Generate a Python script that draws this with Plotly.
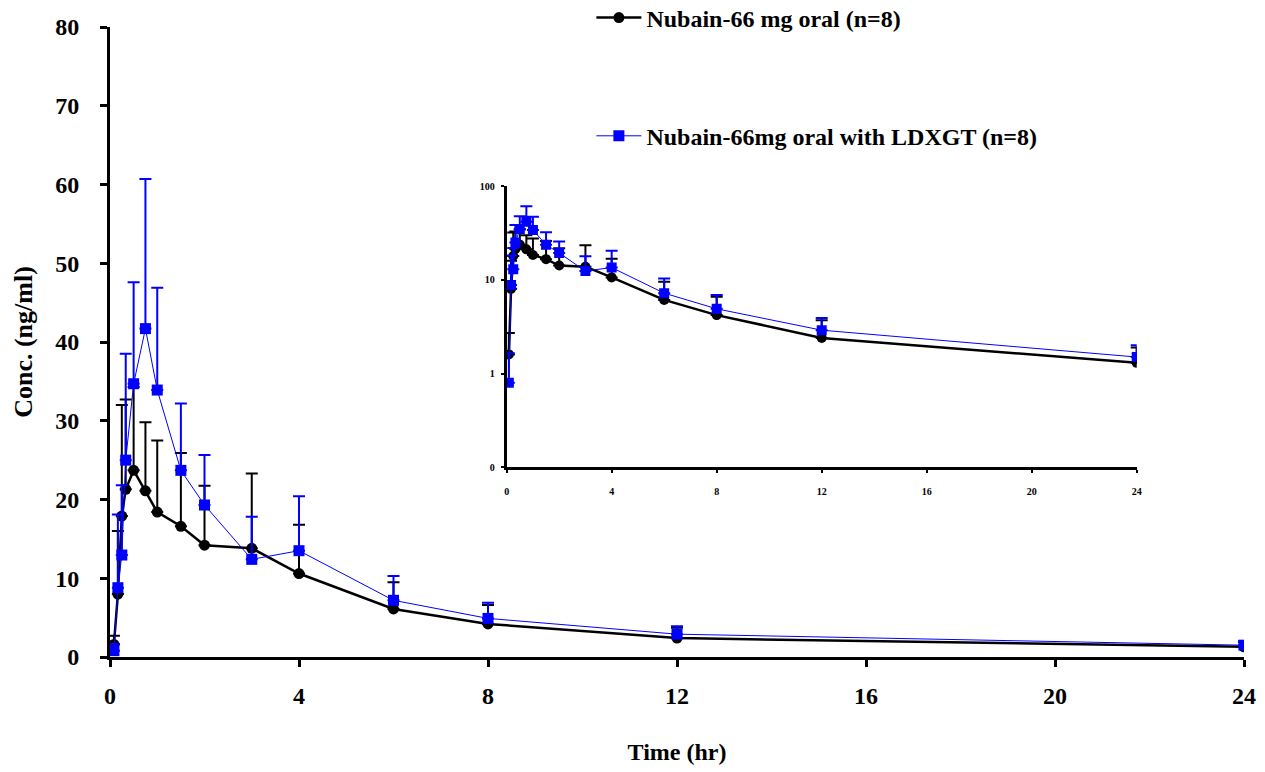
import plotly.graph_objects as go

# ---- data ----
time_hr = [0.083, 0.167, 0.25, 0.333, 0.5, 0.75, 1, 1.5, 2, 3, 4, 6, 8, 12, 24]

oral_mean = [1.6, 8.0, 17.9, 21.3, 23.7, 21.1, 18.4, 16.6, 14.2, 13.8, 10.6, 6.1, 4.2, 2.4, 1.3]
oral_sd = [1.1, 8.0, 14.1, 11.4, 10.6, 8.7, 9.1, 9.3, 7.55, 9.5, 6.2, 3.4, 2.4, 1.3, 0.6]

ldxgt_mean = [0.8, 8.8, 12.95, 25.0, 34.7, 41.7, 33.9, 23.7, 19.3, 12.4, 13.5, 7.2, 4.9, 2.9, 1.5]
ldxgt_sd = [0.85, 9.3, 8.85, 13.5, 12.9, 19.0, 13.0, 8.5, 6.35, 5.4, 6.9, 3.1, 2.0, 1.0, 0.5]

name_oral = "Nubain-66 mg oral (n=8)"
name_ldxgt = "Nubain-66mg oral with LDXGT (n=8)"

main_yticks = [0, 10, 20, 30, 40, 50, 60, 70, 80]
x_ticks = [0, 4, 8, 12, 16, 20, 24]
inset_yticks = [0.1, 1, 10, 100]
inset_yticktext = ["0", "1", "10", "100"]

FONT = "Liberation Serif"
BLACK = "#000000"
BLUE = "#0000FF"

fig = go.Figure()

def add_series(xaxis, yaxis, showlegend, msize):
    zeros = [0] * len(time_hr)
    fig.add_trace(go.Scatter(
        x=time_hr, y=oral_mean, name=name_oral, mode="lines+markers",
        xaxis=xaxis, yaxis=yaxis, showlegend=showlegend, legendgroup="a",
        line=dict(color=BLACK, width=2.5),
        marker=dict(symbol="circle", size=msize, color=BLACK),
        error_y=dict(type="data", symmetric=False, array=oral_sd, arrayminus=zeros,
                     color=BLACK, thickness=2, width=6),
    ))
    fig.add_trace(go.Scatter(
        x=time_hr, y=ldxgt_mean, name=name_ldxgt, mode="lines+markers",
        xaxis=xaxis, yaxis=yaxis, showlegend=showlegend, legendgroup="b",
        line=dict(color=BLUE, width=1),
        marker=dict(symbol="square", size=msize, color=BLUE),
        error_y=dict(type="data", symmetric=False, array=ldxgt_sd, arrayminus=zeros,
                     color=BLUE, thickness=2, width=6),
    ))

add_series("x", "y", True, 11)
add_series("x2", "y2", False, 10)

axis_font = dict(family=FONT, size=24, color=BLACK, weight="bold")
title_font = dict(family=FONT, size=24, color=BLACK, weight="bold")
small_font = dict(family=FONT, size=10, color=BLACK, weight="bold")

fig.update_layout(
    width=1265, height=772, autosize=False,
    margin=dict(l=110, r=21, t=27, b=115, autoexpand=False),
    paper_bgcolor="white", plot_bgcolor="white",
    font=dict(family=FONT, color=BLACK),
    xaxis=dict(
        range=[0, 24], tickvals=x_ticks, showgrid=False, zeroline=False,
        showline=True, linecolor=BLACK, linewidth=3,
        ticks="outside", ticklen=7, tickwidth=3, tickcolor=BLACK,
        tickfont=axis_font, ticklabelstandoff=8,
        title=dict(text="Time (hr)", font=title_font, standoff=36),
        domain=[0, 1], automargin=False,
    ),
    yaxis=dict(
        range=[0, 80], tickvals=main_yticks, showgrid=False, zeroline=False,
        showline=True, linecolor=BLACK, linewidth=3,
        ticks="outside", ticklen=7, tickwidth=3, tickcolor=BLACK,
        tickfont=axis_font, ticklabelstandoff=16,
        title=dict(text="Conc. (ng/ml)", font=dict(family=FONT, size=26, color=BLACK, weight="bold"), standoff=16),
        domain=[0, 1], automargin=False,
    ),
    xaxis2=dict(
        range=[0, 24], tickvals=x_ticks, showgrid=False, zeroline=False,
        showline=True, linecolor=BLACK, linewidth=3,
        ticks="outside", ticklen=3, tickwidth=2, tickcolor=BLACK,
        tickfont=small_font, ticklabelstandoff=10,
        anchor="y2", domain=[0.3498, 0.9054], automargin=False,
    ),
    yaxis2=dict(
        type="log", range=[-1, 2], tickvals=inset_yticks, ticktext=inset_yticktext,
        showgrid=False, zeroline=False,
        showline=True, linecolor=BLACK, linewidth=3,
        ticks="outside", ticklen=3, tickwidth=2, tickcolor=BLACK,
        tickfont=small_font, ticklabelstandoff=4,
        anchor="x2", domain=[0.3011, 0.7476], automargin=False,
    ),
    legend=dict(
        x=0.4245, y=1.05, xanchor="left", yanchor="top",
        font=dict(family=FONT, size=24, color=BLACK, weight="bold"),
        tracegroupgap=84, itemwidth=45, bgcolor="rgba(0,0,0,0)",
    ),
)

# remove the default page margin so the figure fills the window exactly
fig.write_html("out.html", config={"displayModeBar": False},
               post_script="document.body.style.margin='0';")
